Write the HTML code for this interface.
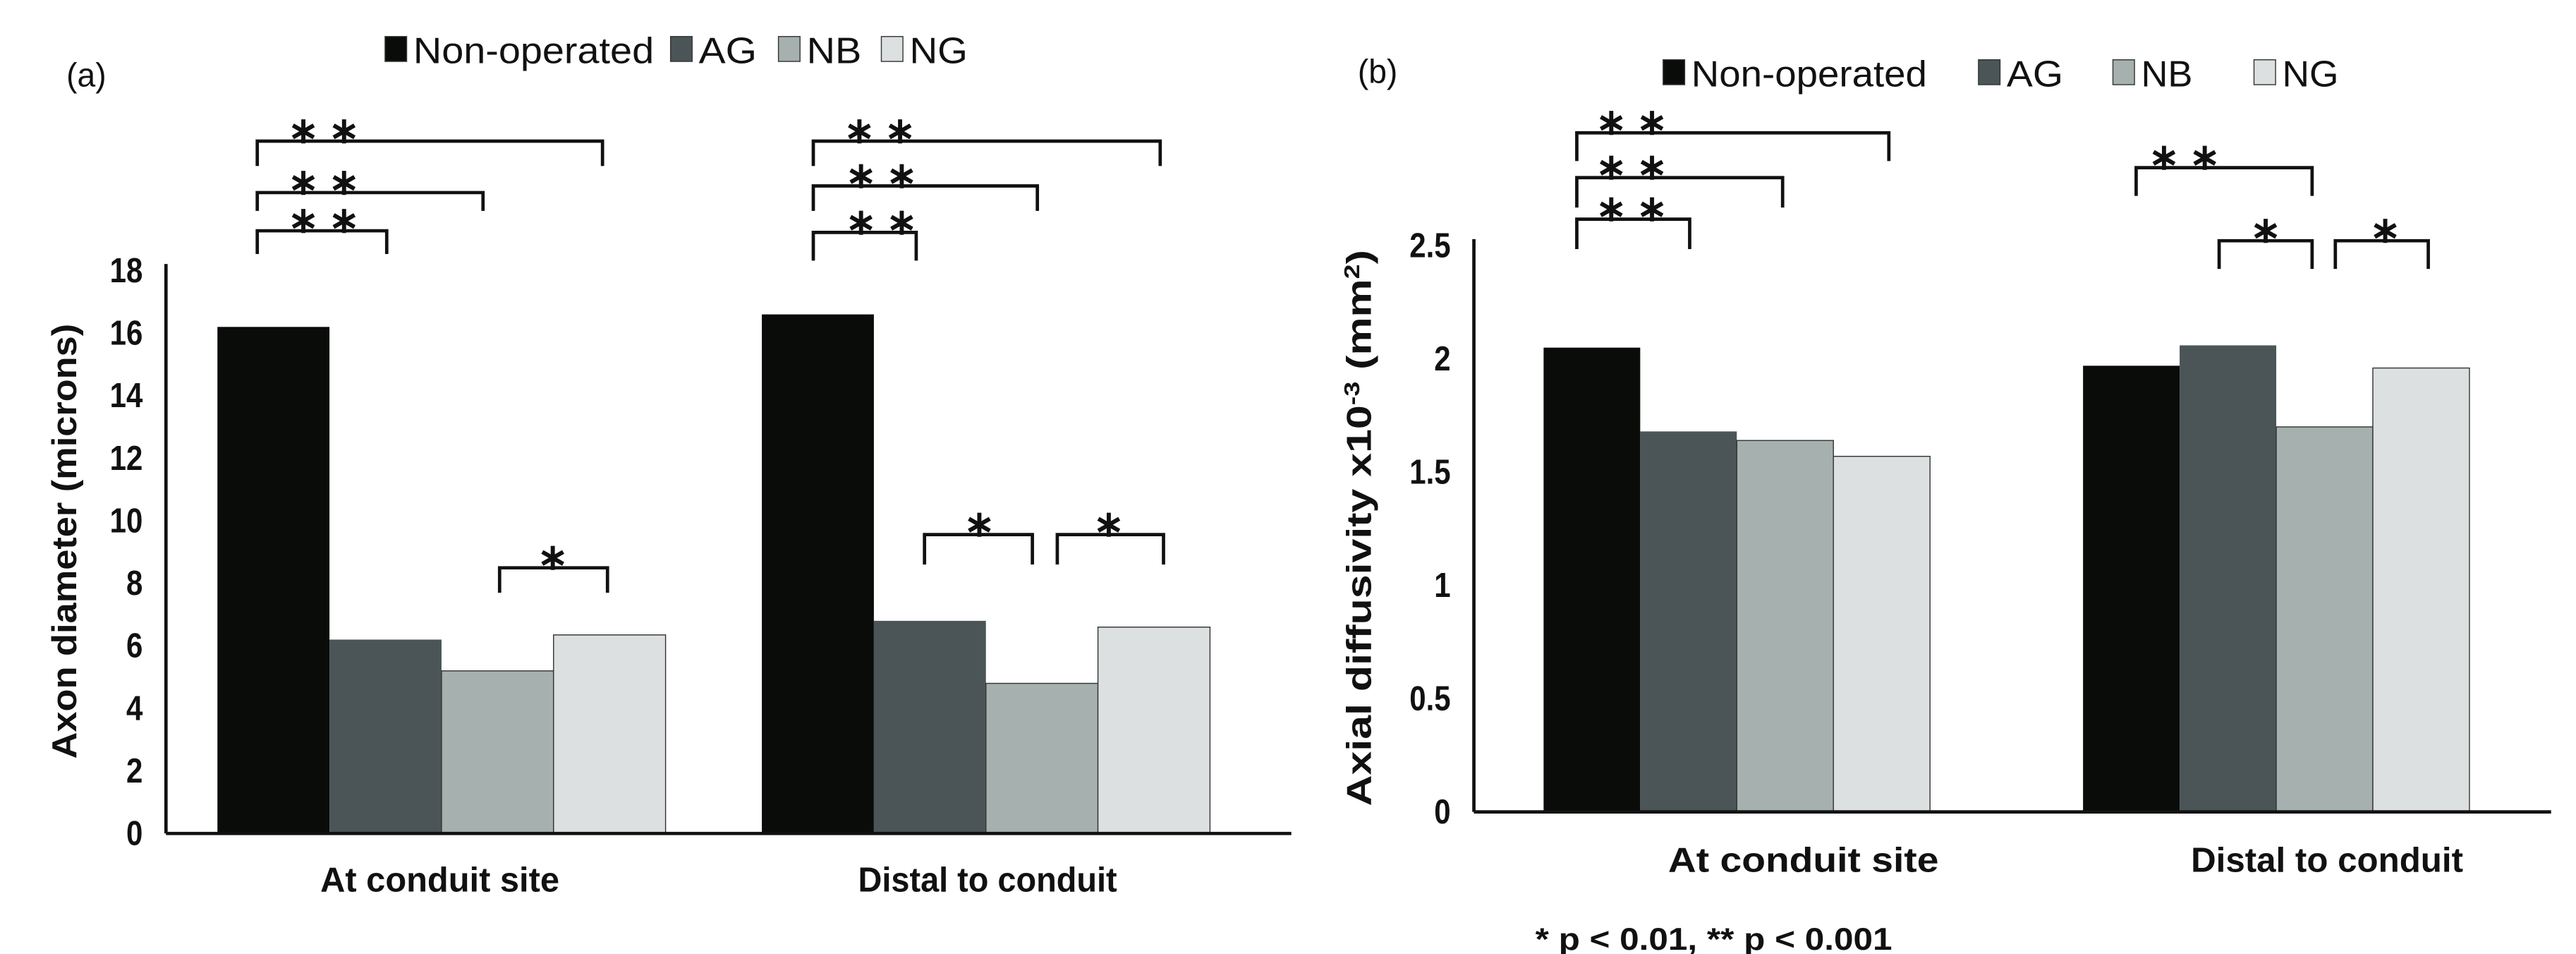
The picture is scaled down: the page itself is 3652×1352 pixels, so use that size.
<!DOCTYPE html>
<html><head><meta charset="utf-8"><style>
html,body{margin:0;padding:0;background:#fff;}
svg{display:block;}
text{font-family:"Liberation Sans",sans-serif;fill:#111;}
</style></head><body>
<svg id="fig" width="3652" height="1352" viewBox="0 0 1552 574.6" preserveAspectRatio="none" xmlns="http://www.w3.org/2000/svg"></svg>
<script>
const categories = ["At conduit site", "Distal to conduit"];
const seriesNames = ["Non-operated", "AG", "NB", "NG"];
const colors = ["#0a0c0a", "#4b5558", "#a6b0ae", "#dde0e0"];
const diameterNonOp = [16.2, 16.6];
const diameterAG = [6.2, 6.8];
const diameterNB = [5.2, 4.8];
const diameterNG = [6.35, 6.6];
const diameterTicks = ["0","2","4","6","8","10","12","14","16","18"];
const diffNonOp = [2.05, 1.97];
const diffAG = [1.68, 2.06];
const diffNB = [1.64, 1.70];
const diffNG = [1.57, 1.96];
const diffTicks = ["0","0.5","1","1.5","2","2.5"];

const NS = "http://www.w3.org/2000/svg";
const svg = document.getElementById("fig");
function el(tag, attrs, parent, txt){
  const e = document.createElementNS(NS, tag);
  for (const k in attrs) e.setAttribute(k, attrs[k]);
  if (txt !== undefined) e.textContent = txt;
  (parent || svg).appendChild(e);
  return e;
}

function chart(cfg){
  const g = el("g", {});
  
  
  const y = v => cfg.base - (v / cfg.max) * (cfg.base - cfg.top);
  const series = cfg.series;
  for (let c = 0; c < categories.length; c++){
    for (let s = 0; s < series.length; s++){
      const x0 = cfg.groupX[c] + s * cfg.barW;
      const v = series[s][c];
      const r = el("rect", {x:x0, y:y(v), width:cfg.barW, height:cfg.base - y(v), fill:colors[s], stroke:s>1?"#333":"none", "stroke-width":0.6}, g);
      
      
    }
    const t = el("text", {x:cfg.catX[c], y:cfg.catY, "font-size":21, "font-weight":"bold", textLength:cfg.catW[c], lengthAdjust:"spacingAndGlyphs"}, g, categories[c]);
    
    
  }
  const ya = el("line", {x1:cfg.axisX, y1:cfg.top - 4, x2:cfg.axisX, y2:cfg.base, stroke:"#111", "stroke-width":2}, g);
  
  
  const xa = el("line", {x1:cfg.axisX, y1:cfg.base, x2:cfg.axisEnd, y2:cfg.base, stroke:"#111", "stroke-width":2}, g);
  
  
  cfg.ticks.forEach(tk => {
    const t = el("text", {x:cfg.axisX - 14, y:y(parseFloat(tk)) + 7, "text-anchor":"end", "font-size":21, "font-weight":"bold", transform:`translate(${(cfg.axisX-14)*0.15},0) scale(0.85,1)`}, g, tk);
    
    
  });
  cfg.brackets.forEach(b => {
    const p = el("path", {d:`M${b[0]},${b[3]} V${b[2]} H${b[1]} V${b[3]}`, fill:"none", stroke:"#111", "stroke-width":2}, g);
    
    
    const st = el("text", {x:b[5], y:b[2] + 1, "text-anchor":"middle", "font-size":22, "font-weight":"bold"}, g, b[4]);
    
    
  });
  cfg.legend.forEach((L, i) => {
    const sq = el("rect", {x:L[0], y:cfg.legY - 8, width:13, height:15, fill:colors[i], stroke:"#333", "stroke-width":0.6}, g);
    
    
    const lt = el("text", {x:L[0] + 17, y:cfg.legY + 8, "font-size":cfg.legFont, textLength:L[1], lengthAdjust:"spacingAndGlyphs"}, g, seriesNames[i]);
    
    
  });
  const pl = el("text", {x:cfg.panelX, y:cfg.panelY, "font-size":20, textLength:24, lengthAdjust:"spacingAndGlyphs"}, g, cfg.panel);
  
  
  const yt = el("text", {x:0, y:0, transform:`translate(${cfg.titleX},${cfg.titleY}) rotate(-90)`, "text-anchor":"middle", "font-size":21, "font-weight":"bold", textLength:cfg.titleLen, lengthAdjust:"spacingAndGlyphs"}, g);
  
  
  cfg.title(yt);
  return g;
}

chart({
  name:"chart-axon-diameter", max:18, base:502, top:163, axisX:100, axisEnd:778,
  groupX:[131, 459], barW:67.5, catY:537, catX:[193,517], catW:[144,156], ticks:diameterTicks,
  series:[diameterNonOp, diameterAG, diameterNB, diameterNG],
  brackets:[
    [155,363,85,100,"∗ ∗",195],[155,291,116,127,"∗ ∗",195],[155,233,139,153,"∗ ∗",195],
    [301,366,342,357,"∗",333],
    [490,699,85,100,"∗ ∗",530],[490,625,112,127,"∗ ∗",531],[490,552,140,157,"∗ ∗",531],
    [557,622,322,340,"∗",590],[637,701,322,340,"∗",668]
  ],
  legY:30, legFont:22, legend:[[232,145],[404,35],[469,33],[531,35]],
  panel:"(a)", panelX:40, panelY:52,
  titleX:46, titleY:326, titleLen:262,
  title:t => { t.textContent = "Axon diameter (microns)"; }
});

chart({
  name:"chart-axial-diffusivity", max:2.5, base:489, top:148, axisX:888, axisEnd:1537,
  groupX:[930, 1255], barW:58.2, catY:525, catX:[1005,1320], catW:[163,164], ticks:diffTicks,
  series:[diffNonOp, diffAG, diffNB, diffNG],
  brackets:[
    [950,1138,80,97,"∗ ∗",983],[950,1074,107,125,"∗ ∗",983],[950,1018,132,150,"∗ ∗",983],
    [1287,1393,101,118,"∗ ∗",1316],[1337,1393,145,162,"∗",1365],[1407,1463,145,162,"∗",1437]
  ],
  legY:44, legFont:22, legend:[[1002,142],[1192,34],[1273,31],[1358,34]],
  panel:"(b)", panelX:818, panelY:50,
  titleX:826, titleY:318, titleLen:335,
  title:t => {
    t.appendChild(document.createTextNode("Axial diffusivity x10"));
    const s1 = document.createElementNS(NS, "tspan"); s1.setAttribute("dy","-7"); s1.setAttribute("font-size","13"); s1.textContent = "-3"; t.appendChild(s1);
    const s2 = document.createElementNS(NS, "tspan"); s2.setAttribute("dy","7"); s2.textContent = " (mm"; t.appendChild(s2);
    const s3 = document.createElementNS(NS, "tspan"); s3.setAttribute("dy","-7"); s3.setAttribute("font-size","13"); s3.textContent = "2"; t.appendChild(s3);
    const s4 = document.createElementNS(NS, "tspan"); s4.setAttribute("dy","7"); s4.textContent = ")"; t.appendChild(s4);
  }
});

const fn = el("text", {x:925, y:572, "font-size":19, "font-weight":"bold", textLength:215, lengthAdjust:"spacingAndGlyphs"}, svg, "* p < 0.01, ** p < 0.001");


</script>
</body></html>
